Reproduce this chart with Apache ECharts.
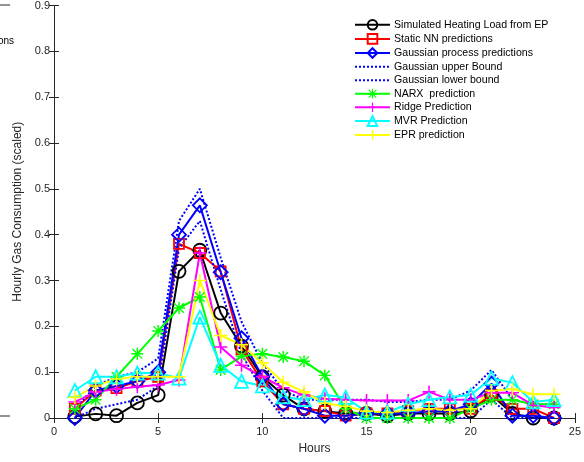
<!DOCTYPE html>
<html>
<head>
<meta charset="utf-8">
<script src="https://cdn.jsdelivr.net/npm/echarts@6/dist/echarts.min.js"></script>
<style>
  html, body { margin: 0; padding: 0; background: #fff; }
  #chart { width: 584px; height: 462px; }
</style>
</head>
<body>
<div id="chart"></div>
<script>
  // hours of the day
  var hours = [1, 2, 3, 4, 5, 6, 7, 8, 9, 10, 11, 12, 13, 14, 15, 16, 17, 18, 19, 20, 21, 22, 23, 24];

  var simulatedEP = [0.003, 0.009, 0.005, 0.033, 0.05, 0.32, 0.366, 0.229, 0.157, 0.09, 0.05, 0.02, 0.015, 0.01, 0.01, 0.005, 0.01, 0.01, 0.01, 0.015, 0.05, 0.01, 0.0, 0.0];
  var staticNN = [0.02, 0.06, 0.065, 0.08, 0.09, 0.38, 0.36, 0.32, 0.15, 0.08, 0.03, 0.02, 0.015, 0.005, 0.01, 0.01, 0.015, 0.02, 0.02, 0.02, 0.05, 0.02, 0.02, 0.0];
  var gaussian = [0.0, 0.06, 0.07, 0.08, 0.1, 0.4, 0.464, 0.318, 0.174, 0.09, 0.03, 0.02, 0.005, 0.005, 0.01, 0.01, 0.01, 0.015, 0.015, 0.03, 0.075, 0.005, 0.005, 0.0];
  var gaussUpper = [0.02, 0.07, 0.09, 0.1, 0.13, 0.43, 0.5, 0.35, 0.21, 0.12, 0.06, 0.04, 0.04, 0.04, 0.04, 0.035, 0.035, 0.04, 0.04, 0.06, 0.105, 0.04, 0.03, 0.03];
  var gaussLower = [0.0, 0.02, 0.03, 0.04, 0.07, 0.37, 0.43, 0.28, 0.14, 0.06, 0.0, 0.0, 0.0, 0.0, 0.0, 0.0, 0.0, 0.0, 0.0, 0.0, 0.04, 0.0, 0.0, 0.0];
  var narx = [0.02, 0.04, 0.09, 0.14, 0.19, 0.24, 0.264, 0.105, 0.135, 0.14, 0.133, 0.124, 0.093, 0.02, 0.0, 0.0, 0.0, 0.0, 0.0, 0.02, 0.04, 0.04, 0.03, 0.03];
  var ridge = [0.035, 0.057, 0.063, 0.068, 0.072, 0.083, 0.36, 0.155, 0.115, 0.09, 0.066, 0.05, 0.042, 0.04, 0.038, 0.038, 0.038, 0.057, 0.04, 0.04, 0.055, 0.055, 0.028, 0.023];
  var mvr = [0.06, 0.09, 0.09, 0.098, 0.098, 0.087, 0.22, 0.115, 0.08, 0.07, 0.046, 0.04, 0.05, 0.045, 0.013, 0.013, 0.03, 0.04, 0.046, 0.05, 0.087, 0.077, 0.035, 0.04];
  var epr = [0.045, 0.07, 0.085, 0.09, 0.09, 0.09, 0.3, 0.18, 0.16, 0.12, 0.078, 0.057, 0.032, 0.025, 0.015, 0.012, 0.017, 0.02, 0.017, 0.02, 0.06, 0.063, 0.052, 0.052];

  var yTicks = [0, 0.1, 0.2, 0.3, 0.4, 0.5, 0.6, 0.7, 0.8, 0.9];
  var xTicks = [0, 5, 10, 15, 20, 25];

  var axisColor = '#262626';
  var plusPath = 'path://M4.4,0H5.6V4.4H10V5.6H5.6V10H4.4V5.6H0V4.4H4.4Z';
  var starPath = 'path://M4.4,0H5.6V4.4H10V5.6H5.6V10H4.4V5.6H0V4.4H4.4Z' +
    'M1.4,0.6L9.4,8.6L8.6,9.4L0.6,1.4Z' +
    'M8.6,0.6L9.4,1.4L1.4,9.4L0.6,8.6Z';

  function pairs(arr) {
    var out = [];
    arr.forEach(function (v, i) { out.push([hours[i], v]); });
    return out;
  }

  /* open marker series, MATLAB style: unfilled marker */
  function openSeries(name, data, color, symbol, size) {
    return {
      name: name, type: 'line', data: pairs(data),
      symbol: symbol, symbolSize: size, showAllSymbol: true,
      lineStyle: {color: color, width: 2},
      itemStyle: {color: 'rgba(255,255,255,0)', borderColor: color, borderWidth: 1.8},
      emphasis: {disabled: true}, animation: false
    };
  }

  function pathSeries(name, data, color, symbol, size) {
    return {
      name: name, type: 'line', data: pairs(data),
      symbol: symbol, symbolSize: size, showAllSymbol: true,
      lineStyle: {color: color, width: 2},
      itemStyle: {color: color},
      emphasis: {disabled: true}, animation: false
    };
  }

  function dottedSeries(name, data, color) {
    return {
      name: name, type: 'line', data: pairs(data),
      symbol: 'none',
      lineStyle: {color: color, width: 2, type: [2, 2]},
      itemStyle: {color: color},
      emphasis: {disabled: true}, animation: false
    };
  }

  var chart = echarts.init(document.getElementById('chart'));

  var noMarker = {color: 'rgba(0,0,0,0)', borderWidth: 0, opacity: 0};

  chart.setOption({
    backgroundColor: '#fff',
    animation: false,
    textStyle: {fontFamily: 'Liberation Sans, Arial, sans-serif'},
    grid: {left: 54, right: 5, top: 5, bottom: 44, containLabel: false},
    legend: {
      orient: 'vertical',
      left: 354, top: 19, padding: 0,
      itemWidth: 35, itemHeight: 12, itemGap: 2.5,
      textStyle: {fontSize: 10.6, color: '#000', padding: [0, 0, 0, -1]},
      data: [
        {name: 'Simulated Heating Load from EP'},
        {name: 'Static NN predictions'},
        {name: 'Gaussian process predictions'},
        {name: 'Gaussian upper Bound', itemStyle: noMarker},
        {name: 'Gaussian lower bound', itemStyle: noMarker},
        {name: 'NARX  prediction'},
        {name: 'Ridge Prediction'},
        {name: 'MVR Prediction'},
        {name: 'EPR prediction'}
      ]
    },
    xAxis: [{
      type: 'value', min: xTicks[0], max: xTicks[xTicks.length - 1], interval: 5,
      name: 'Hours', nameLocation: 'middle', nameGap: 25,
      nameTextStyle: {fontSize: 12, color: axisColor},
      axisLine: {lineStyle: {color: axisColor, width: 1}},
      axisTick: {inside: true, length: 5, lineStyle: {color: axisColor}},
      axisLabel: {fontSize: 11, color: axisColor, margin: 8},
      splitLine: {show: false}
    }, {
      type: 'value', position: 'top', min: 0, max: 25, interval: 5,
      axisLine: {lineStyle: {color: axisColor, width: 1}},
      axisTick: {inside: true, length: 5, lineStyle: {color: axisColor}},
      axisLabel: {show: false}, splitLine: {show: false}
    }],
    yAxis: [{
      type: 'value', min: yTicks[0], max: yTicks[yTicks.length - 1], interval: 0.1,
      name: 'Hourly Gas Consumption (scaled)', nameLocation: 'middle', nameGap: 23,
      nameTextStyle: {fontSize: 12, color: axisColor},
      axisLine: {show: true, lineStyle: {color: axisColor, width: 1}},
      axisTick: {show: true, inside: true, length: 5, lineStyle: {color: axisColor}},
      axisLabel: {fontSize: 11, color: axisColor, margin: 4, formatter: function (v) { return v === 0 ? '0' : v.toFixed(1); }},
      splitLine: {show: false}
    }, {
      type: 'value', position: 'right', min: 0, max: 0.9, interval: 0.1,
      axisLine: {show: true, lineStyle: {color: axisColor, width: 1}},
      axisTick: {show: true, inside: true, length: 5, lineStyle: {color: axisColor}},
      axisLabel: {show: false}, splitLine: {show: false}
    }],
    series: [
      openSeries('Simulated Heating Load from EP', simulatedEP, '#000000', 'circle', 13),
      openSeries('Static NN predictions', staticNN, '#ff0000', 'rect', 10),
      openSeries('Gaussian process predictions', gaussian, '#0000ff', 'diamond', 14),
      dottedSeries('Gaussian upper Bound', gaussUpper, '#0000ff'),
      dottedSeries('Gaussian lower bound', gaussLower, '#0000ff'),
      pathSeries('NARX  prediction', narx, '#00ff00', starPath, 12),
      pathSeries('Ridge Prediction', ridge, '#ff00ff', plusPath, 13),
      openSeries('MVR Prediction', mvr, '#00ffff', 'triangle', 13),
      pathSeries('EPR prediction', epr, '#ffff00', plusPath, 13)
    ],
    graphic: [
      // edges of the neighbouring figure, cut off at the left
      {type: 'line', shape: {x1: 0, y1: 5, x2: 10, y2: 5}, style: {stroke: axisColor, lineWidth: 1}},
      {type: 'text', left: -2, top: 36, style: {text: 'ons', fontSize: 10, fill: '#000', fontFamily: 'Liberation Sans'}},
      {type: 'line', shape: {x1: 0, y1: 416, x2: 10, y2: 416}, style: {stroke: axisColor, lineWidth: 1}}
    ]
  });
</script>
</body>
</html>
